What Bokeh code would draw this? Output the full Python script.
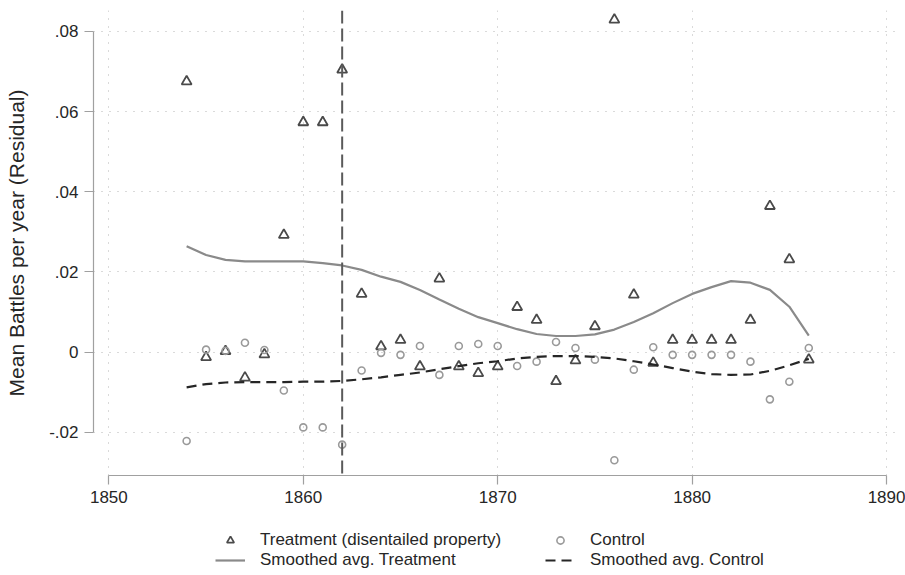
from bokeh.plotting import figure
from bokeh.layouts import column
from bokeh.models import Range1d, FixedTicker, Span, Legend, LegendItem
from bokeh.embed import file_html
from bokeh.resources import INLINE

years = [1854, 1855, 1856, 1857, 1858, 1859, 1860, 1861, 1862, 1863, 1864,
         1865, 1866, 1867, 1868, 1869, 1870, 1871, 1872, 1873, 1874, 1875,
         1876, 1877, 1878, 1879, 1880, 1881, 1882, 1883, 1884, 1885, 1886]

treatment = [0.0675, -0.0013, 0.0002, -0.0064, -0.0006, 0.0292, 0.0573, 0.0573,
             0.0704, 0.0145, 0.0014, 0.0030, -0.0036, 0.0183, -0.0036, -0.0053,
             -0.0036, 0.0112, 0.0080, -0.0073, -0.0021, 0.0064, 0.0829, 0.0143,
             -0.0027, 0.0030, 0.0030, 0.0030, 0.0030, 0.0080, 0.0364, 0.0231,
             -0.0019]

control = [-0.0222, 0.0006, 0.0003, 0.0023, 0.0005, -0.0096, -0.0188, -0.0188,
           -0.0231, -0.0046, -0.0002, -0.0007, 0.0015, -0.0057, 0.0015, 0.0020,
           0.0015, -0.0035, -0.0024, 0.0025, 0.0010, -0.0019, -0.0270, -0.0044,
           0.0012, -0.0007, -0.0007, -0.0007, -0.0007, -0.0024, -0.0118, -0.0074,
           0.0010]

smooth_treatment = [0.0264, 0.0242, 0.0230, 0.0226, 0.0226, 0.0226, 0.0226, 0.0222,
                    0.0216, 0.0205, 0.0188, 0.0175, 0.0155, 0.0131, 0.0108, 0.0087,
                    0.0072, 0.0057, 0.0045, 0.0040, 0.0040, 0.0044, 0.0056, 0.0075,
                    0.0097, 0.0122, 0.0145, 0.0162, 0.0177, 0.0173, 0.0155, 0.0113,
                    0.0041]

smooth_control = [-0.0088, -0.0080, -0.0076, -0.0075, -0.0075, -0.0075, -0.0074, -0.0074,
                  -0.0072, -0.0068, -0.0063, -0.0057, -0.0051, -0.0043, -0.0035, -0.0028,
                  -0.0023, -0.0016, -0.0012, -0.0010, -0.0010, -0.0012, -0.0016, -0.0023,
                  -0.0031, -0.0040, -0.0049, -0.0055, -0.0057, -0.0056, -0.0047, -0.0033,
                  -0.0017]

reform_year = 1862

x_ticks = [1850, 1860, 1870, 1880, 1890]
y_ticks = [-0.02, 0.0, 0.02, 0.04, 0.06, 0.08]
y_tick_labels = ["-.02", "0", ".02", ".04", ".06", ".08"]

y_title = "Mean Battles per year (Residual)"
legend_labels = ["Treatment (disentailed property)", "Control",
                 "Smoothed avg. Treatment", "Smoothed avg. Control"]

FONT = "Liberation Sans"
AXIS_COLOR = "#a0a0a0"
TEXT_COLOR = "#262626"

# styles
tri_style = dict(marker="triangle", fill_color=None,
                 line_color="#4a4a4a", line_width=1.8)
circ_style = dict(marker="circle", fill_color=None,
                  line_color="#9a9a9a", line_width=1.6)
st_style = dict(line_color="#8a8a8a", line_width=2.2)
sc_style = dict(line_color="#262626", line_width=2.2, line_dash="10 6")

p = figure(width=905, height=510, output_backend="svg", toolbar_location=None,
           x_range=Range1d(1849.21, 1890.46), y_range=Range1d(-0.0308, 0.0852),
           min_border_left=93, min_border_right=10, min_border_top=10,
           min_border_bottom=35)
p.outline_line_color = None
p.background_fill_color = "white"
p.border_fill_color = "white"

# grid
for g in (p.xgrid, p.ygrid):
    g.grid_line_color = "#b4b4b4"
    g.grid_line_dash = "1 7"
    g.grid_line_width = 1
p.xgrid.ticker = FixedTicker(ticks=x_ticks)
p.ygrid.ticker = FixedTicker(ticks=y_ticks)

# axes
xa = p.xaxis[0]
xa.ticker = FixedTicker(ticks=x_ticks, minor_ticks=[])
xa.bounds = (x_ticks[0], x_ticks[-1])
ya = p.yaxis[0]
ya.ticker = FixedTicker(ticks=y_ticks, minor_ticks=[])
ya.bounds = (y_ticks[0], y_ticks[-1])
ya.major_label_overrides = {t: lab for t, lab in zip(y_ticks, y_tick_labels)}
ya.axis_label = y_title
ya.axis_label_text_font = FONT
ya.axis_label_text_font_size = "21px"
ya.axis_label_text_font_style = "normal"
ya.axis_label_text_color = TEXT_COLOR
ya.axis_label_standoff = 18
for ax in (xa, ya):
    ax.axis_line_color = AXIS_COLOR
    ax.major_tick_line_color = AXIS_COLOR
    ax.axis_line_width = 1.2
    ax.major_tick_line_width = 1.2
    ax.major_tick_out = 9
    ax.major_tick_in = 0
    ax.minor_tick_line_color = None
    ax.major_label_text_font = FONT
    ax.major_label_text_font_size = "17px"
    ax.major_label_text_color = TEXT_COLOR
    ax.major_label_standoff = 6

# reform line
p.add_layout(Span(location=reform_year, dimension="height", line_color="#5a5a5a",
                  line_width=2, line_dash="13 5"))

p.scatter(years, treatment, size=10, **tri_style)
p.scatter(years, control, size=7, **circ_style)
p.line(years, smooth_treatment, **st_style)
p.line(years, smooth_control, **sc_style)

# legend strip below the chart (its data lie outside its ranges; only keys show)
lg = figure(width=905, height=65, output_backend="svg", toolbar_location=None,
            x_range=Range1d(0, 1), y_range=Range1d(0, 1),
            x_axis_type=None, y_axis_type=None,
            min_border_left=0, min_border_right=0, min_border_top=0,
            min_border_bottom=0)
lg.outline_line_color = None
lg.xgrid.visible = False
lg.ygrid.visible = False
lg_t = lg.scatter(years, treatment, size=7, **tri_style)
lg_c = lg.scatter(years, control, size=5, **circ_style)
lg_st = lg.line(years, smooth_treatment, **st_style)
lg_sc = lg.line(years, smooth_control, **sc_style)

legend = Legend(items=[LegendItem(label=legend_labels[0], renderers=[lg_t]),
                       LegendItem(label=legend_labels[1], renderers=[lg_c]),
                       LegendItem(label=legend_labels[2], renderers=[lg_st]),
                       LegendItem(label=legend_labels[3], renderers=[lg_sc])],
                orientation="horizontal", ncols=2,
                location=(122, 5), margin=0, padding=0, spacing=0,
                glyph_width=30, glyph_height=18, label_height=18,
                label_width=285, label_standoff=15,
                label_text_font=FONT, label_text_font_size="17px",
                label_text_color=TEXT_COLOR,
                border_line_color=None, background_fill_alpha=0)
lg.add_layout(legend, "center")

layout = column(p, lg, spacing=0)
open("out.html", "w").write(file_html(layout, INLINE))
